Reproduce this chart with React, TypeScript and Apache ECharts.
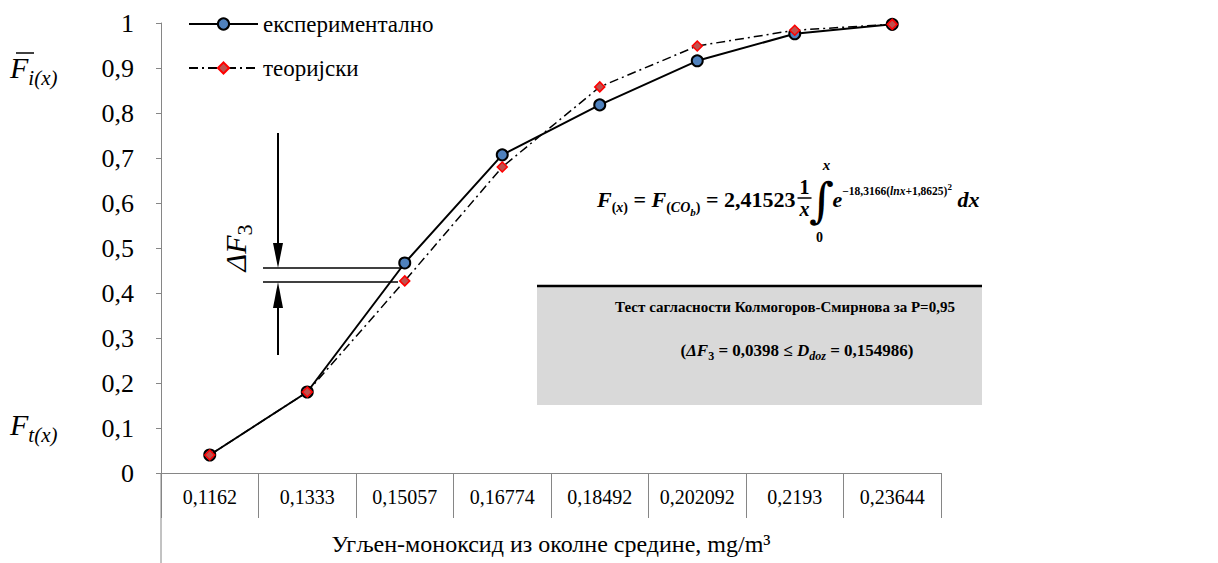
import React, { useEffect, useRef } from "react";
import * as echarts from "echarts";

// ---------- data ----------
const categories = ["0,1162", "0,1333", "0,15057", "0,16774", "0,18492", "0,202092", "0,2193", "0,23644"];
const experimental = [0.04, 0.18, 0.4667, 0.707, 0.818, 0.916, 0.976, 0.997];
const theoretical = [0.04, 0.18, 0.4269, 0.68, 0.858, 0.949, 0.984, 0.997];
const seriesNames = ["експериментално", "теоријски"];
const yMin = 0;
const yMax = 1;
const yStep = 0.1;
const xAxisTitle = "Угљен-моноксид из околне средине, mg/m³";
const testTitle = "Тест сагласности Колмогоров-Смирнова за P=0,95";
const deltaF3Value = "0,0398";
const dDozValue = "0,154986";
const formulaCoef = "2,41523";
const formulaExpA = "−18,3166(";
const formulaExpB = "lnx";
const formulaExpC = "+1,8625)";

const SERIF = "'Liberation Serif', 'Times New Roman', serif";
const GRAY = "#868686";

type Opt = { b?: boolean; i?: boolean; off?: number; gap?: number; family?: string };

function makeFlow(ctx: CanvasRenderingContext2D) {
  const items: any[] = [];
  let x = 0;
  const add = (t: string, s: number, o: Opt = {}) => {
    x += o.gap || 0;
    const fam = o.family || SERIF;
    ctx.font = `${o.i ? "italic " : ""}${o.b ? "bold " : ""}${s}px ${fam}`;
    const w = ctx.measureText(t).width;
    items.push({ t, s, o, x, fam });
    x += w;
  };
  const build = (x0: number, baseline: number) =>
    items.map((it) => ({
      type: "text",
      x: x0 + it.x,
      y: baseline + (it.o.off || 0) - 0.3375 * it.s,
      style: {
        text: it.t,
        fontFamily: it.fam,
        fontSize: it.s,
        fontWeight: it.o.b ? "bold" : "normal",
        fontStyle: it.o.i ? "italic" : "normal",
        fill: "#000",
        align: "left",
        verticalAlign: "middle",
      },
    }));
  return { add, build, width: () => x };
}

export default function App() {
  const ref = useRef<HTMLDivElement>(null);
  useEffect(() => {
    const chart = echarts.init(ref.current!, null, { renderer: "svg" });
    const ctx = document.createElement("canvas").getContext("2d")!;

    const fmt = (v: number) => (v === 0 ? "0" : v === 1 ? "1" : v.toFixed(1).replace(".", ","));

    const graphics: any[] = [];

    // left extension of the axis frame below the category labels
    graphics.push({ type: "line", shape: { x1: 161, y1: 473, x2: 161, y2: 563 }, style: { stroke: GRAY, lineWidth: 1 } });

    // left side labels F̄i(x) and Ft(x)
    const fi = makeFlow(ctx);
    fi.add("F", 30, { i: true });
    fi.add("i(x)", 21, { i: true, off: 7 });
    graphics.push(...fi.build(10, 78));
    graphics.push({ type: "line", shape: { x1: 16, y1: 53, x2: 34, y2: 53 }, style: { stroke: "#000", lineWidth: 1.5 } });
    const ft = makeFlow(ctx);
    ft.add("F", 30, { i: true });
    ft.add("t(x)", 21, { i: true, off: 7 });
    graphics.push(...ft.build(10, 435));

    // ΔF3 annotation
    const yUp = 268;
    const yLo = 282;
    graphics.push({ type: "line", shape: { x1: 263, y1: yUp, x2: 402, y2: yUp }, style: { stroke: "#000", lineWidth: 1.5 } });
    graphics.push({ type: "line", shape: { x1: 263, y1: yLo, x2: 398, y2: yLo }, style: { stroke: "#000", lineWidth: 1.5 } });
    graphics.push({ type: "line", shape: { x1: 278, y1: 133, x2: 278, y2: yUp - 10 }, style: { stroke: "#000", lineWidth: 2 } });
    graphics.push({ type: "polygon", shape: { points: [[273, yUp - 25], [283, yUp - 25], [278, yUp]] }, style: { fill: "#000" } });
    graphics.push({ type: "line", shape: { x1: 278, y1: yLo + 10, x2: 278, y2: 355 }, style: { stroke: "#000", lineWidth: 2 } });
    graphics.push({ type: "polygon", shape: { points: [[273, yLo + 26], [283, yLo + 26], [278, yLo]] }, style: { fill: "#000" } });
    const df = makeFlow(ctx);
    df.add("ΔF", 30, { i: true });
    df.add("3", 22, { off: 6 });
    graphics.push({
      type: "group",
      x: 236,
      y: 248,
      rotation: Math.PI / 2,
      children: df.build(-df.width() / 2, 10),
    });

    // formula
    const MAIN = 22;
    const SUB = 14;
    const f = makeFlow(ctx);
    f.add("F", MAIN, { b: true, i: true });
    f.add("(", SUB, { b: true, off: 5 });
    f.add("x", SUB, { b: true, i: true, off: 5 });
    f.add(")", SUB, { b: true, off: 5 });
    f.add(" = ", MAIN, { b: true });
    f.add("F", MAIN, { b: true, i: true });
    f.add("(", SUB, { b: true, off: 5 });
    f.add("CO", SUB, { b: true, i: true, off: 5 });
    f.add("b", 11, { b: true, i: true, off: 9 });
    f.add(")", SUB, { b: true, off: 5 });
    f.add(" = " + formulaCoef, MAIN, { b: true });
    const fx0 = 597;
    const fB = 207;
    graphics.push(...f.build(fx0, fB));
    let cx = fx0 + f.width() + 9;
    // fraction 1/x
    graphics.push({ type: "text", x: cx, y: 187, style: { text: "1", fontFamily: SERIF, fontSize: 20, fontWeight: "bold", fill: "#000", align: "center", verticalAlign: "middle" } });
    graphics.push({ type: "line", shape: { x1: cx - 7, y1: 198, x2: cx + 7, y2: 198 }, style: { stroke: "#000", lineWidth: 1.5 } });
    graphics.push({ type: "text", x: cx, y: 209, style: { text: "x", fontFamily: SERIF, fontSize: 20, fontWeight: "bold", fontStyle: "italic", fill: "#000", align: "center", verticalAlign: "middle" } });
    cx += 17;
    // integral
    graphics.push({ type: "text", x: cx, y: 200, style: { text: "∫", fontFamily: "'DejaVu Serif', serif", fontSize: 48, fill: "#000", align: "center", verticalAlign: "middle" } });
    graphics.push({ type: "text", x: cx + 5, y: 165, style: { text: "x", fontFamily: SERIF, fontSize: 15, fontWeight: "bold", fontStyle: "italic", fill: "#000", align: "center", verticalAlign: "middle" } });
    graphics.push({ type: "text", x: cx - 2, y: 237, style: { text: "0", fontFamily: SERIF, fontSize: 14, fontWeight: "bold", fill: "#000", align: "center", verticalAlign: "middle" } });
    cx += 11;
    const EXP = 11.5;
    const f2 = makeFlow(ctx);
    f2.add("e", MAIN, { b: true, i: true });
    f2.add(formulaExpA, EXP, { b: true, off: -12 });
    f2.add(formulaExpB, EXP, { b: true, i: true, off: -12 });
    f2.add(formulaExpC, EXP, { b: true, off: -12 });
    f2.add("2", 9, { b: true, off: -17 });
    f2.add(" dx", MAIN, { b: true, i: true });
    graphics.push(...f2.build(cx, fB));

    // gray test box
    const boxL = 537;
    const boxR = 982;
    graphics.push({ type: "rect", shape: { x: boxL, y: 285, width: boxR - boxL, height: 120 }, style: { fill: "#D9D9D9" } });
    graphics.push({ type: "line", shape: { x1: boxL, y1: 286, x2: boxR, y2: 286 }, style: { stroke: "#000", lineWidth: 2.5 } });
    graphics.push({
      type: "text",
      x: 785,
      y: 307,
      style: { text: testTitle, fontFamily: SERIF, fontSize: 15, fontWeight: "bold", fill: "#000", align: "center", verticalAlign: "middle" },
    });
    const g = makeFlow(ctx);
    g.add("(", 17, { b: true });
    g.add("ΔF", 17, { b: true, i: true });
    g.add("3", 12, { b: true, off: 4 });
    g.add(" = " + deltaF3Value + " ≤ ", 17, { b: true });
    g.add("D", 17, { b: true, i: true });
    g.add("doz", 12, { b: true, i: true, off: 4 });
    g.add(" = " + dDozValue + ")", 17, { b: true });
    graphics.push(...g.build(797 - g.width() / 2, 356));

    const legendText = { fontFamily: SERIF, fontSize: 23, color: "#000", lineHeight: 24 };
    const option: any = {
      animation: false,
      backgroundColor: "#fff",
      grid: { left: 161, top: 23, width: 780, height: 450, containLabel: false },
      legend: [
        { left: 183, top: 7, itemWidth: 69, itemHeight: 14, itemGap: 6, data: [seriesNames[0]], textStyle: legendText },
        { left: 183, top: 51, itemWidth: 69, itemHeight: 14, itemGap: 6, data: [seriesNames[1]], textStyle: legendText },
      ],
      xAxis: {
        type: "category",
        data: categories,
        boundaryGap: true,
        axisLine: { lineStyle: { color: GRAY, width: 1 } },
        axisTick: { show: true, interval: 0, length: 45, lineStyle: { color: GRAY } },
        axisLabel: { interval: 0, fontFamily: SERIF, fontSize: 20, color: "#000", margin: 14 },
        name: xAxisTitle,
        nameLocation: "middle",
        nameGap: 59,
        nameTextStyle: { fontFamily: SERIF, fontSize: 24, color: "#000" },
        splitLine: { show: false },
      },
      yAxis: {
        type: "value",
        min: yMin,
        max: yMax,
        interval: yStep,
        axisLine: { show: true, lineStyle: { color: GRAY, width: 1 } },
        axisTick: { show: true, length: 5, lineStyle: { color: GRAY } },
        axisLabel: { formatter: fmt, fontFamily: SERIF, fontSize: 26, color: "#000", margin: 27 },
        splitLine: { show: false },
      },
      series: [
        {
          name: seriesNames[0],
          type: "line",
          data: experimental,
          symbol: "circle",
          symbolSize: 11,
          itemStyle: { color: "#4F81BD", borderColor: "#000", borderWidth: 2 },
          lineStyle: { color: "#000", width: 2 },
          z: 2,
        },
        {
          name: seriesNames[1],
          type: "line",
          data: theoretical,
          symbol: "diamond",
          symbolSize: 10,
          itemStyle: { color: "#C0504D", borderColor: "#FF0000", borderWidth: 1.5 },
          lineStyle: { color: "#000", width: 1.5, type: [9, 4, 2, 4] },
          z: 3,
        },
      ],
      graphic: { elements: graphics },
    };
    chart.setOption(option);
    return () => chart.dispose();
  }, []);
  return (
    <div
      ref={ref}
      style={{ position: "fixed", left: 0, top: 0, width: 1218, height: 563, background: "#fff" }}
    />
  );
}
